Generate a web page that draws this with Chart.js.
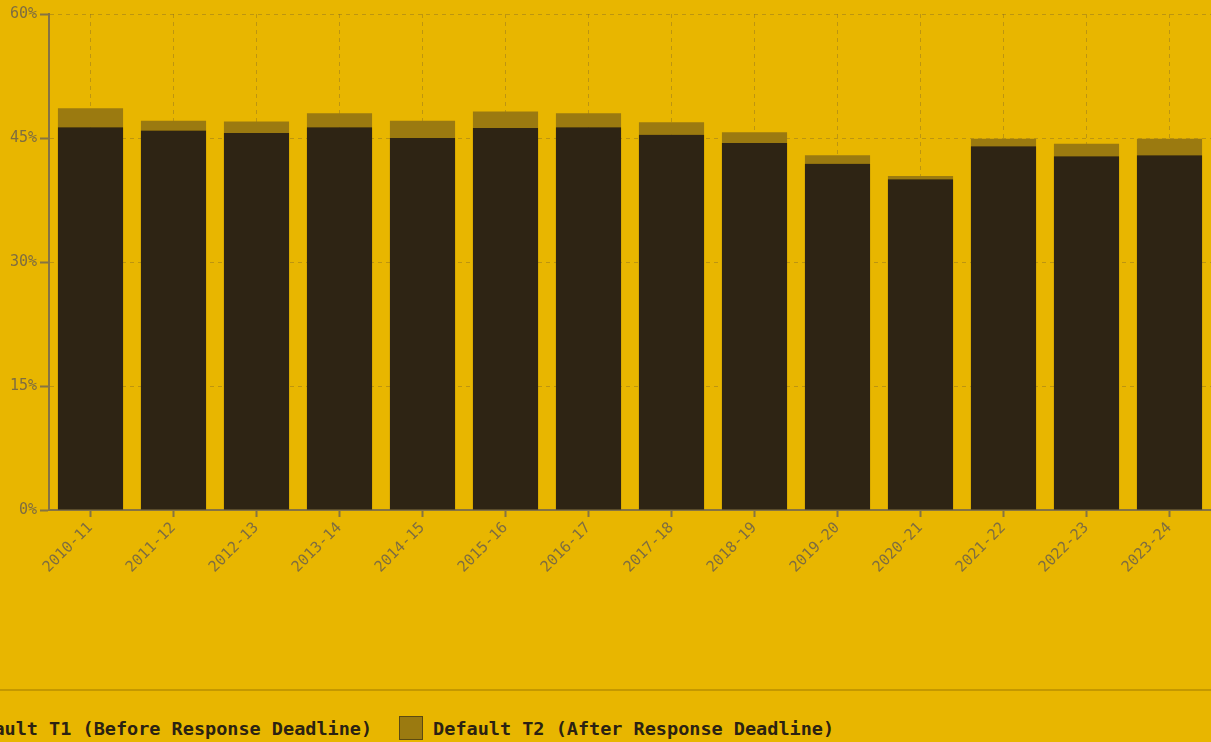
<!DOCTYPE html>
<html>
<head>
<meta charset="utf-8">
<script src="https://cdn.jsdelivr.net/npm/chart.js@4/dist/chart.umd.min.js"></script>
<style>
  body { margin: 0; background: #e8b600; overflow: hidden; width: 1211px; height: 742px; }
  #wrap { position: absolute; left: 0; top: 0; width: 1211px; height: 600px; }
  #legend {
    position: absolute; left: 0; top: 689px; width: 1211px; height: 53px;
    border-top: 2px solid #c49800;
    font-family: "DejaVu Sans Mono", monospace; font-weight: bold; font-size: 18.5px; color: #2b2212;
  }
  #legend .items { position: absolute; left: -74px; top: 25px; display: flex; white-space: nowrap; }
  #legend .item { display: flex; align-items: center; margin-right: 27px; }
  #legend .box { width: 22px; height: 22px; border: 1.5px solid #5c4a12; margin-right: 10px; }
</style>
</head>
<body>
<div id="wrap"><canvas id="grafico"></canvas></div>
<div id="legend"><div class="items"></div></div>
<script>
// anos letivos
const anos = ["2010-11", "2011-12", "2012-13", "2013-14", "2014-15", "2015-16", "2016-17",
  "2017-18", "2018-19", "2019-20", "2020-21", "2021-22", "2022-23", "2023-24"];
const defaultT1 = [46.3, 45.9, 45.6, 46.3, 45.0, 46.2, 46.3, 45.4, 44.4, 41.9, 40.0, 44.0, 42.8, 42.9];
const defaultT2 = [2.3, 1.2, 1.4, 1.7, 2.1, 2.0, 1.7, 1.5, 1.3, 1.0, 0.4, 0.9, 1.5, 2.0];
const nomes = ["Default T1 (Before Response Deadline)", "Default T2 (After Response Deadline)"];
const yTicks = [0, 15, 30, 45, 60];

const corEixo = "#857343";
const corGrade = "rgba(125,100,40,0.4)";
const fonteTicks = { family: "'DejaVu Sans Mono', monospace", size: 15 };

const ctx = document.getElementById("grafico").getContext("2d");
const grafico = new Chart(ctx, {
  type: "bar",
  data: {
    labels: anos,
    datasets: [
      { label: nomes[0], data: defaultT1, backgroundColor: "#2e2414", borderWidth: 0 },
      { label: nomes[1], data: defaultT2, backgroundColor: "#9b7a10", borderWidth: 0 }
    ]
  },
  options: {
    responsive: true,
    maintainAspectRatio: false,
    animation: false,
    layout: { padding: { top: 14, right: 0, bottom: 0, left: 0 } },
    datasets: { bar: { categoryPercentage: 1, barPercentage: 0.785 } },
    plugins: { legend: { display: false }, tooltip: { enabled: false } },
    scales: {
      x: {
        stacked: true,
        afterFit: s => { s.height = 90; },
        grid: { offset: false, color: corGrade, tickColor: corEixo, tickLength: 7, tickWidth: 2, tickBorderDash: [] },
        border: { color: corEixo, width: 2, dash: [4, 4] },
        ticks: { color: "#7e6d40", font: fonteTicks, minRotation: 45, maxRotation: 45, padding: 2 }
      },
      y: {
        stacked: true,
        min: 0,
        max: 60,
        afterFit: s => { s.width = 49; },
        afterBuildTicks: s => { s.ticks = yTicks.map(v => ({ value: v })); },
        grid: { color: corGrade, tickColor: corEixo, tickLength: 9, tickWidth: 2, tickBorderDash: [] },
        border: { color: corEixo, width: 2, dash: [4, 4] },
        ticks: { color: "#7e6d40", font: fonteTicks, padding: 3, callback: v => v + "%" }
      }
    }
  }
});

// legenda em html
const itens = document.querySelector("#legend .items");
grafico.data.datasets.forEach(ds => {
  const el = document.createElement("div");
  el.className = "item";
  el.innerHTML = `<span class="box" style="background:${ds.backgroundColor}"></span><span>${ds.label}</span>`;
  itens.appendChild(el);
});
</script>
</body>
</html>
